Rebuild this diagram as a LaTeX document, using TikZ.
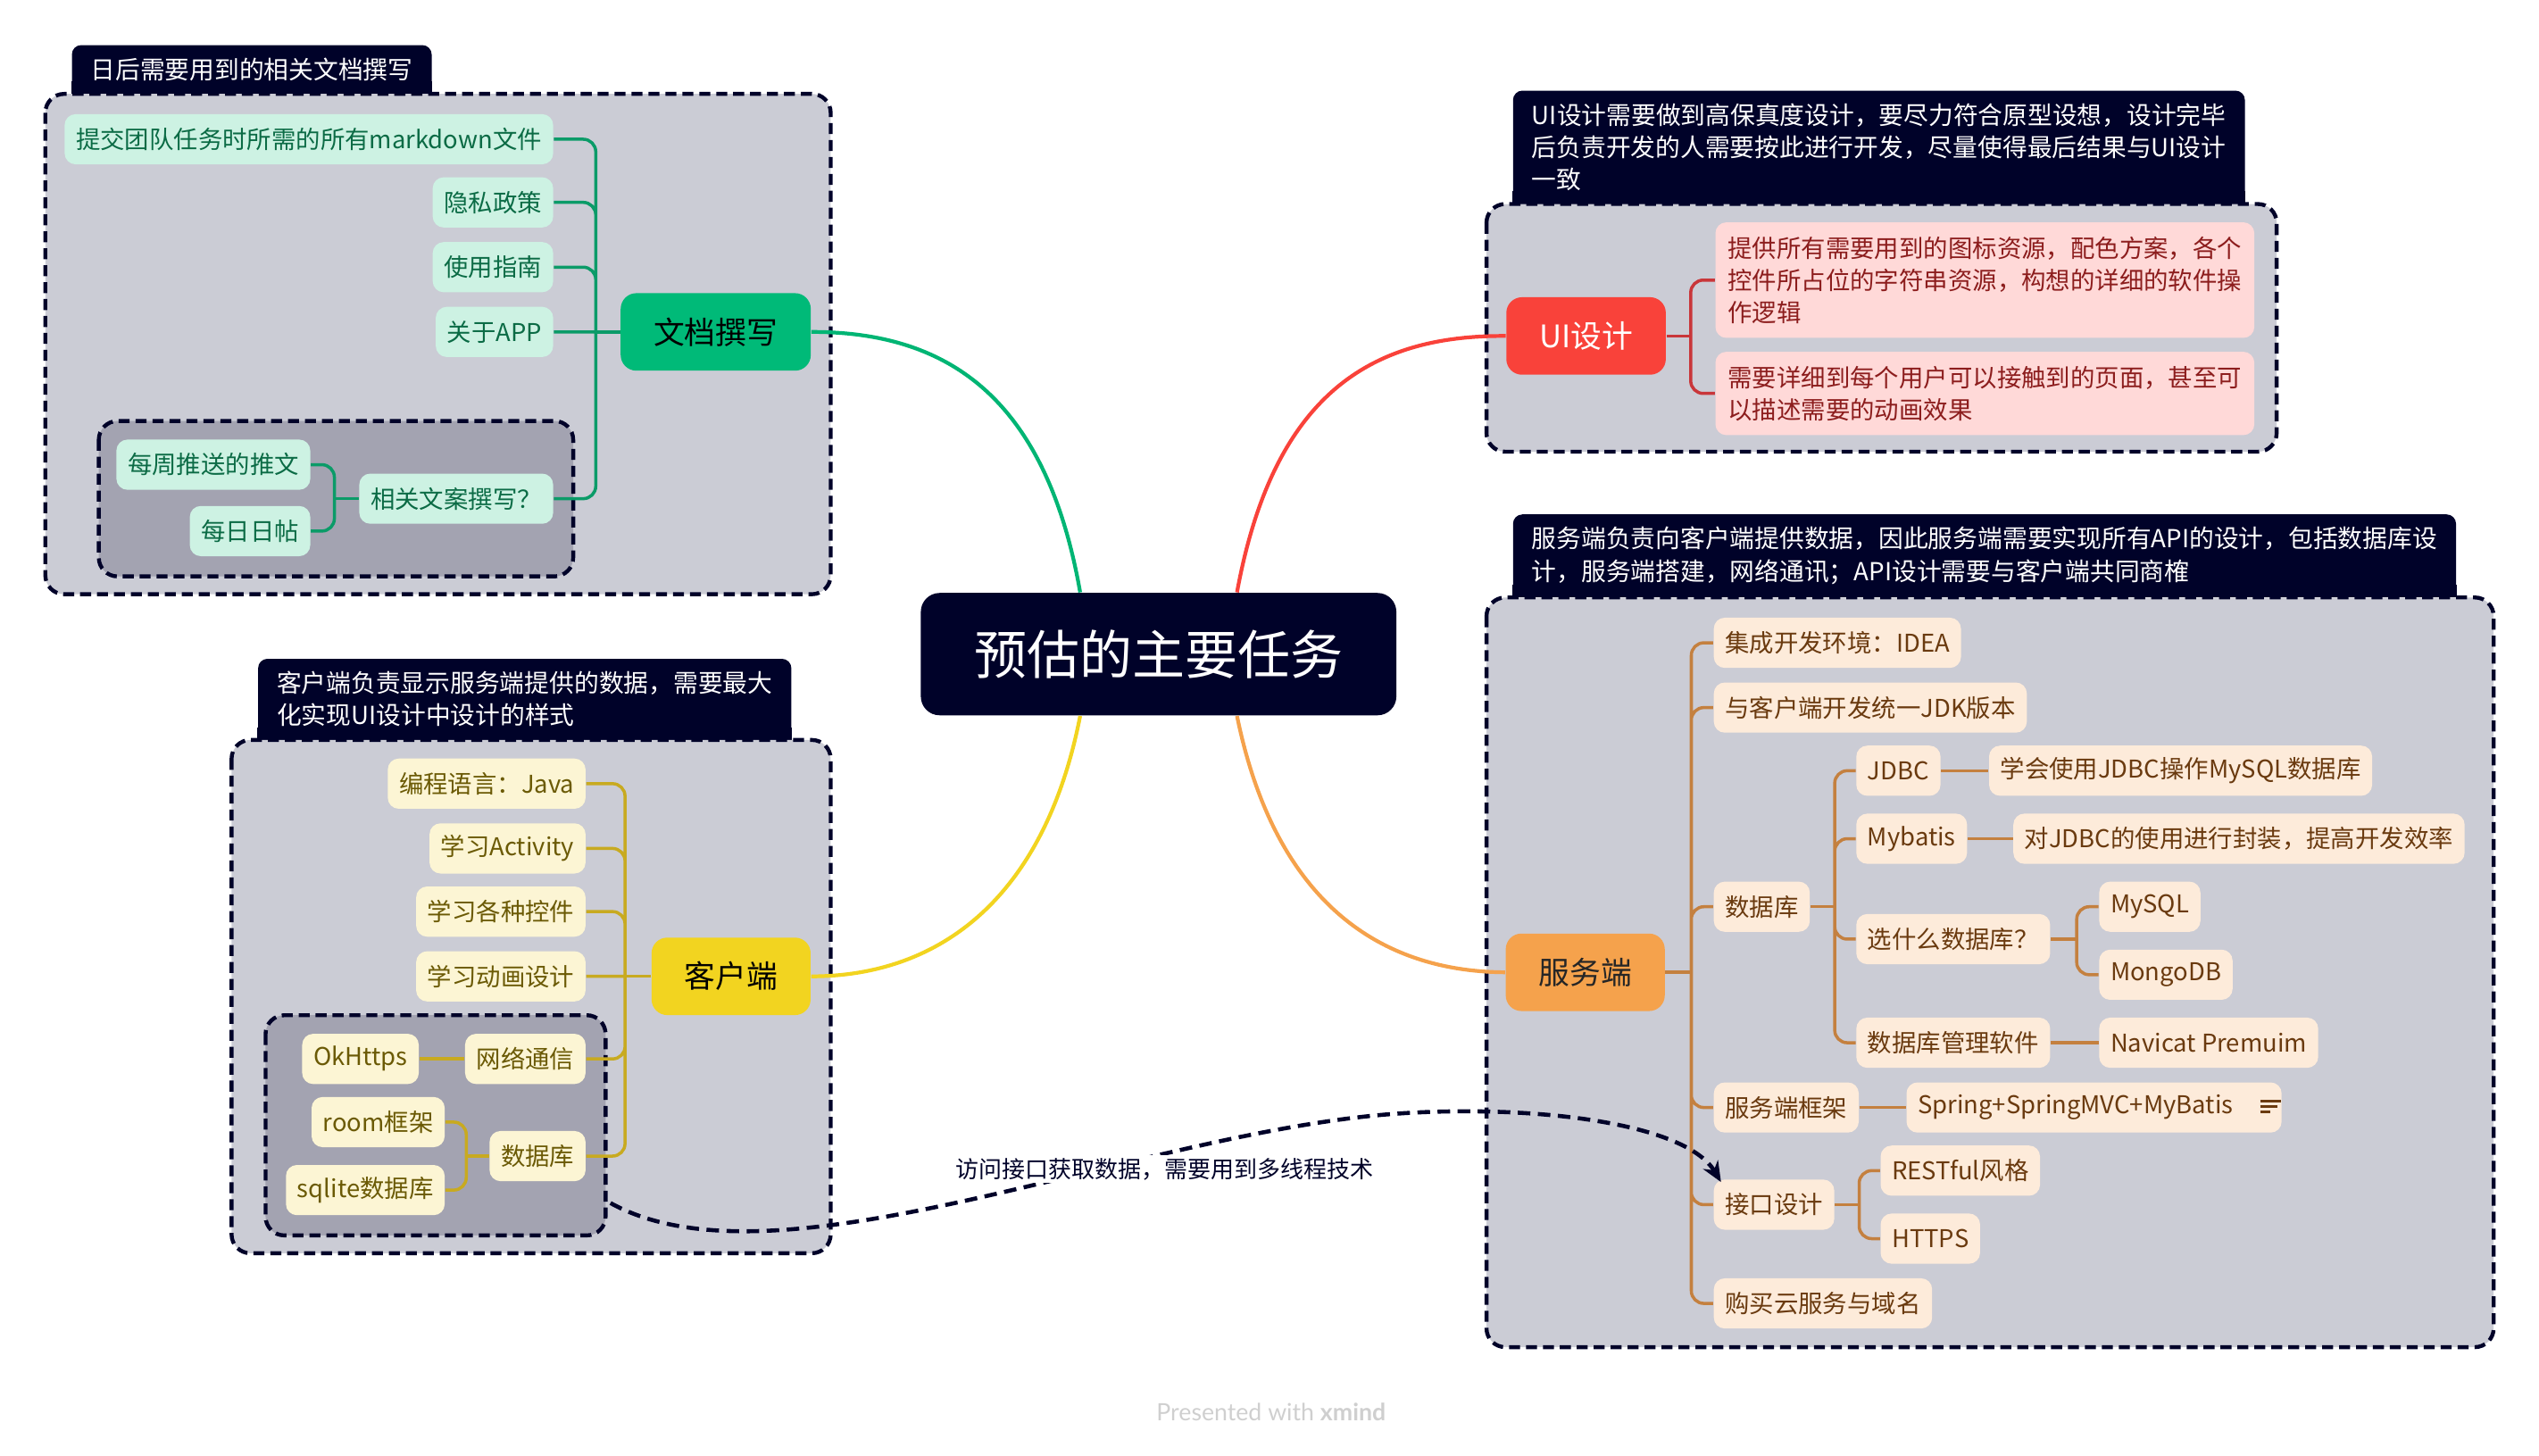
\documentclass[tikz,border=0pt]{standalone}
\usepackage{fontspec}
\setmainfont{Noto Sans CJK SC}
\newfontfamily\footfont{Lato}
\usetikzlibrary{arrows.meta}

\definecolor{navy}{HTML}{000229}
\definecolor{grpfill}{HTML}{CBCCD5}
\definecolor{grpinner}{HTML}{A3A3B1}
\definecolor{docmain}{HTML}{00BA78}
\definecolor{docline}{HTML}{0B9B68}
\definecolor{doccurve}{HTML}{00B574}
\definecolor{docfill}{HTML}{CDF2E3}
\definecolor{doctext}{HTML}{0B6B45}
\definecolor{uimain}{HTML}{F9423A}
\definecolor{uiline}{HTML}{C9363A}
\definecolor{uifill}{HTML}{FFD9D8}
\definecolor{uitext}{HTML}{8C1D1D}
\definecolor{srvmain}{HTML}{F5A24C}
\definecolor{srvline}{HTML}{C4803F}
\definecolor{srvfill}{HTML}{FDEBDA}
\definecolor{srvtext}{HTML}{6A3A0F}
\definecolor{climain}{HTML}{F2D420}
\definecolor{cliline}{HTML}{C8AA20}
\definecolor{clifill}{HTML}{FCF5D4}
\definecolor{clitext}{HTML}{6B5A05}
\definecolor{footgray}{HTML}{CFCFCF}

\newcommand{\notesicon}{\hspace{1.1em}\rlap{\raisebox{0.85ex}{\rule{0.85em}{0.12em}}}\rlap{\raisebox{0.45ex}{\rule{0.7em}{0.12em}}}\raisebox{0.05ex}{\rule{0.42em}{0.12em}}\hspace{0.45em}}

\begin{document}
\begin{tikzpicture}[x=0.018138cm, y=-0.018138cm,
  every node/.style={font=\fontsize{7.8pt}{10.3pt}\selectfont},
  main-topic/.style={fill=navy, text=white, rounded corners=6pt, minimum height=39pt, inner xsep=17pt, font=\fontsize{16.8pt}{20pt}\selectfont},
  topic/.style={rounded corners=5pt, minimum height=24.7pt, inner xsep=10.5pt, font=\fontsize{9.9pt}{12pt}\selectfont},
  leaf/.style={rounded corners=3.5pt, minimum height=16pt, inner xsep=3.6pt, inner ysep=2pt},
  doc-leaf/.style={leaf, fill=docfill, text=doctext},
  ui-leaf/.style={leaf, fill=uifill, text=uitext, align=left, inner xsep=4pt, inner ysep=4.5pt},
  srv-leaf/.style={leaf, fill=srvfill, text=srvtext},
  cli-leaf/.style={leaf, fill=clifill, text=clitext},
  grp-tab/.style={fill=navy, text=white, rounded corners=3pt, inner xsep=6pt, inner ysep=4pt, align=left, anchor=south west, font=\fontsize{7.9pt}{10.3pt}\selectfont},
  grp-box/.style={draw=navy, line width=1.25pt, dash pattern=on 3.5pt off 1.9pt, rounded corners=6pt},
  curve/.style={line width=1.2pt},
  doc-line/.style={draw=docline, line width=1pt, rounded corners=4pt},
  ui-line/.style={draw=uiline, line width=1pt, rounded corners=4pt},
  srv-line/.style={draw=srvline, line width=1pt, rounded corners=4pt},
  cli-line/.style={draw=cliline, line width=1pt, rounded corners=4pt},
  sync-arrow/.style={draw=navy, line width=1.3pt, dash pattern=on 4pt off 2.4pt, -{Stealth[length=6.5pt, width=5.5pt]}}
]
\useasboundingbox (0,0) rectangle (1568,899);

% Group tabs
\node[grp-tab] (doc-tab) at (44,58) {日后需要用到的相关文档撰写};
\fill[navy] (doc-tab.south west) rectangle ([yshift=4pt]doc-tab.south east);
\node[grp-tab] (doc-maybe-tab) at (78,260) {存疑，也许不需要};
\fill[navy] (doc-maybe-tab.south west) rectangle ([yshift=4pt]doc-maybe-tab.south east);
\node[grp-tab] (ui-tab) at (934,126) {UI设计需要做到高保真度设计，要尽力符合原型设想，设计完毕\\后负责开发的人需要按此进行开发，尽量使得最后结果与UI设计\\一致};
\fill[navy] (ui-tab.south west) rectangle ([yshift=4pt]ui-tab.south east);
\node[grp-tab] (srv-tab) at (934,369) {服务端负责向客户端提供数据，因此服务端需要实现所有API的设计，包括数据库设\\计，服务端搭建，网络通讯；API设计需要与客户端共同商榷};
\fill[navy] (srv-tab.south west) rectangle ([yshift=4pt]srv-tab.south east);
\node[grp-tab] (cli-tab) at (159,457) {客户端负责显示服务端提供的数据，需要最大\\化实现UI设计中设计的样式};
\fill[navy] (cli-tab.south west) rectangle ([yshift=4pt]cli-tab.south east);

% Group boxes
\draw[grp-box, fill=grpfill] (28,58) rectangle (513,367);
\draw[grp-box, fill=grpinner] (61,260) rectangle (354,356);
\draw[grp-box, fill=grpfill] (918,126) rectangle (1406,279);
\draw[grp-box, fill=grpfill] (918,369) rectangle (1540,832);
\draw[grp-box, fill=grpfill] (143,457) rectangle (513,774);
\draw[grp-box, fill=grpinner] (164,627) rectangle (374,763);

% Central topic
\node[main-topic] (main) at (715.5,404) {预估的主要任务};

% Main topics
\node[topic, fill=docmain] (doc) at (442,205) {文档撰写};
\node[topic, fill=uimain, text=white] (ui) at (979.5,207.5) {UI设计};
\node[topic, fill=srvmain, text=black!85] (srv) at (979,600.5) {服务端};
\node[topic, fill=climain] (cli) at (451.5,603) {客户端};

\draw[curve, doccurve] ([xshift=-25pt]main.north) .. controls (645,240) and (580,205) .. (doc.east);
\draw[curve, uimain] ([xshift=25pt]main.north) .. controls (787,240) and (850,207) .. (ui.west);
\draw[curve, climain] ([xshift=-25pt]main.south) .. controls (645,555) and (580,603) .. (cli.east);
\draw[curve, srvmain] ([xshift=25pt]main.south) .. controls (787,555) and (850,600) .. (srv.west);

% Documents
\node[doc-leaf, anchor=east] (doc-md) at (342,86) {提交团队任务时所需的所有markdown文件};
\node[doc-leaf, anchor=east] (doc-privacy) at (342,125) {隐私政策};
\node[doc-leaf, anchor=east] (doc-guide) at (342,165) {使用指南};
\node[doc-leaf, anchor=east] (doc-about) at (342,205) {关于APP};
\node[doc-leaf, anchor=east] (doc-copy) at (342,308) {相关文案撰写？};
\node[doc-leaf, anchor=east] (doc-weekly) at (192,287) {每周推送的推文};
\node[doc-leaf, anchor=east] (doc-daily) at (192,328) {每日日帖};

\draw[doc-line] (doc.west) -- ++(-15,0) coordinate (doc-fork);
\draw[doc-line] (doc-fork) |- (doc-md.east) (doc-fork) |- (doc-privacy.east) (doc-fork) |- (doc-guide.east) (doc-fork) -- (doc-about.east) (doc-fork) |- (doc-copy.east);
\draw[doc-line] (doc-copy.west) -- ++(-15,0) coordinate (copy-fork);
\draw[doc-line] (copy-fork) |- (doc-weekly.east) (copy-fork) |- (doc-daily.east);

% UI design
\node[ui-leaf, anchor=west] (ui-assets) at (1059,173) {提供所有需要用到的图标资源，配色方案，各个\\控件所占位的字符串资源，构想的详细的软件操\\作逻辑};
\node[ui-leaf, anchor=west] (ui-pages) at (1059,243) {需要详细到每个用户可以接触到的页面，甚至可\\以描述需要的动画效果};

\draw[ui-line] (ui.east) -- ++(15,0) coordinate (ui-fork);
\draw[ui-line] (ui-fork) |- (ui-assets.west) (ui-fork) |- (ui-pages.west);

% Server
\node[srv-leaf, anchor=west] (srv-ide) at (1058,397) {集成开发环境：IDEA};
\node[srv-leaf, anchor=west] (srv-jdk) at (1058,437) {与客户端开发统一JDK版本};
\node[srv-leaf, anchor=west] (srv-db) at (1058,560) {数据库};
\node[srv-leaf, anchor=west] (srv-frame) at (1058,684) {服务端框架};
\node[srv-leaf, anchor=west] (srv-api) at (1058,744) {接口设计};
\node[srv-leaf, anchor=west] (srv-cloud) at (1058,805) {购买云服务与域名};
\node[srv-leaf, anchor=west] (srv-jdbc) at (1146,476) {JDBC};
\node[srv-leaf, anchor=west] (srv-mybatis) at (1146,518) {Mybatis};
\node[srv-leaf, anchor=west] (srv-which) at (1146,580) {选什么数据库？};
\node[srv-leaf, anchor=west] (srv-dbtool) at (1146,644) {数据库管理软件};
\node[srv-leaf, anchor=west] (srv-jdbc-note) at (1228,476) {学会使用JDBC操作MySQL数据库};
\node[srv-leaf, anchor=west] (srv-mybatis-note) at (1243,518) {对JDBC的使用进行封装，提高开发效率};
\node[srv-leaf, anchor=west] (srv-mysql) at (1296,560) {MySQL};
\node[srv-leaf, anchor=west] (srv-mongo) at (1296,602) {MongoDB};
\node[srv-leaf, anchor=west] (srv-navicat) at (1296,644) {Navicat Premuim};
\node[srv-leaf, anchor=west] (srv-spring) at (1177,684) {Spring+SpringMVC+MyBatis\notesicon};
\node[srv-leaf, anchor=west] (srv-rest) at (1161,723) {RESTful风格};
\node[srv-leaf, anchor=west] (srv-https) at (1161,765) {HTTPS};

\draw[srv-line] (srv.east) -- ++(16,0) coordinate (srv-fork);
\draw[srv-line] (srv-fork) |- (srv-ide.west) (srv-fork) |- (srv-jdk.west) (srv-fork) |- (srv-db.west) (srv-fork) |- (srv-frame.west) (srv-fork) |- (srv-api.west) (srv-fork) |- (srv-cloud.west);
\draw[srv-line] (srv-db.east) -- ++(15,0) coordinate (db-fork);
\draw[srv-line] (db-fork) |- (srv-jdbc.west) (db-fork) |- (srv-mybatis.west) (db-fork) |- (srv-which.west) (db-fork) |- (srv-dbtool.west);
\draw[srv-line] (srv-jdbc.east) -- (srv-jdbc-note.west);
\draw[srv-line] (srv-mybatis.east) -- (srv-mybatis-note.west);
\draw[srv-line] (srv-which.east) -- ++(16,0) coordinate (which-fork);
\draw[srv-line] (which-fork) |- (srv-mysql.west) (which-fork) |- (srv-mongo.west);
\draw[srv-line] (srv-dbtool.east) -- (srv-navicat.west);
\draw[srv-line] (srv-frame.east) -- (srv-spring.west);
\draw[srv-line] (srv-api.east) -- ++(15,0) coordinate (api-fork);
\draw[srv-line] (api-fork) |- (srv-rest.west) (api-fork) |- (srv-https.west);

% Client
\node[cli-leaf, anchor=east] (cli-java) at (362,484) {编程语言：Java};
\node[cli-leaf, anchor=east] (cli-activity) at (362,524) {学习Activity};
\node[cli-leaf, anchor=east] (cli-widgets) at (362,563) {学习各种控件};
\node[cli-leaf, anchor=east] (cli-anim) at (362,603) {学习动画设计};
\node[cli-leaf, anchor=east] (cli-net) at (362,654) {网络通信};
\node[cli-leaf, anchor=east] (cli-db) at (362,714) {数据库};
\node[cli-leaf, anchor=east] (cli-okhttp) at (259,654) {OkHttps};
\node[cli-leaf, anchor=east] (cli-room) at (275,693) {room框架};
\node[cli-leaf, anchor=east] (cli-sqlite) at (275,735) {sqlite数据库};

\draw[cli-line] (cli.west) -- ++(-16,0) coordinate (cli-fork);
\draw[cli-line] (cli-fork) |- (cli-java.east) (cli-fork) |- (cli-activity.east) (cli-fork) |- (cli-widgets.east) (cli-fork) -- (cli-anim.east) (cli-fork) |- (cli-net.east) (cli-fork) |- (cli-db.east);
\draw[cli-line] (cli-net.west) -- (cli-okhttp.east);
\draw[cli-line] (cli-db.west) -- ++(-14,0) coordinate (clidb-fork);
\draw[cli-line] (clidb-fork) |- (cli-room.east) (clidb-fork) |- (cli-sqlite.east);

% Client to server
\coordinate (sync-from) at (377,743);
\draw[sync-arrow] (sync-from) .. controls (480,800) and (700,700) .. (860,688) .. controls (940,682) and (1040,692) .. ([xshift=2.5pt,yshift=-1pt]srv-api.north west);
\node[fill=white, text=navy, inner sep=1pt, font=\fontsize{7.4pt}{9pt}\selectfont] (sync-label) at (719,722) {访问接口获取数据，需要用到多线程技术};

% Footer
\node[text=footgray, font=\footfont\fontsize{7.6pt}{9pt}\selectfont] (credit) at (785,872) {Presented with \textbf{xmind}};
\end{tikzpicture}
\end{document}
